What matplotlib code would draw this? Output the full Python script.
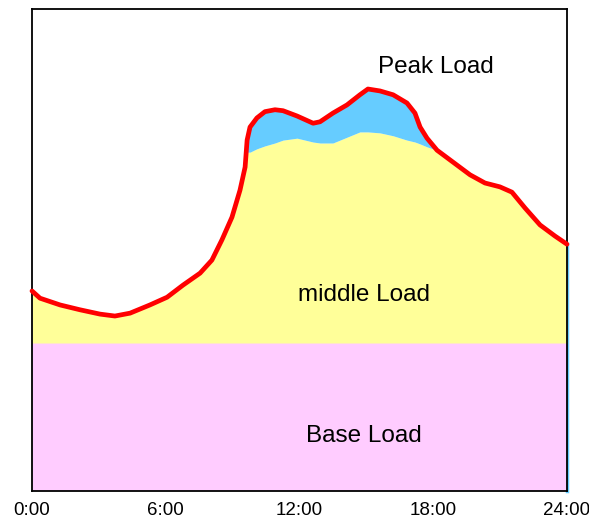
import matplotlib
matplotlib.use("Agg")
import matplotlib.pyplot as plt
import numpy as np

hours = [0.00, 0.36, 1.26, 2.15, 3.05, 3.72, 4.40, 5.29, 6.06, 6.77, 7.54, 8.07, 8.52,
         8.97, 9.33, 9.56, 9.65, 9.78, 10.09, 10.45, 10.90, 11.26, 11.89, 12.61, 12.92,
         13.50, 14.13, 14.71, 15.07, 15.61, 16.20, 16.82, 17.18, 17.41, 17.72, 18.17,
         18.75, 19.65, 20.32, 20.99, 21.53, 22.12, 22.79, 23.46, 24.00]
total_load = [41.5, 40.0, 38.6, 37.6, 36.7, 36.3, 36.9, 38.6, 40.2, 42.7, 45.2, 47.9, 52.1,
              56.8, 62.4, 67.2, 72.8, 75.5, 77.4, 78.7, 79.1, 78.9, 77.8, 76.3, 76.6,
              78.4, 80.1, 82.2, 83.4, 83.0, 82.2, 80.5, 78.4, 75.5, 73.2, 70.7,
              68.7, 65.6, 63.9, 63.1, 62.0, 58.7, 55.2, 52.9, 51.2]
middle_load = [41.5, 40.0, 38.6, 37.6, 36.7, 36.3, 36.9, 38.6, 40.2, 42.7, 45.2, 47.9, 52.1,
               56.8, 62.4, 67.2, 70.3, 70.3, 71.0, 71.6, 72.2, 72.8, 73.2, 72.4, 72.2,
               72.2, 73.4, 74.5, 74.5, 74.3, 73.7, 72.8, 72.4, 72.0, 71.4, 70.7,
               68.7, 65.6, 63.9, 63.1, 62.0, 58.7, 55.2, 52.9, 51.2]
base_load = 30.7
xtick_pos = [0, 6, 12, 18, 24]
xtick_labels = ["0:00", "6:00", "12:00", "18:00", "24:00"]
labels = ["Peak Load", "middle Load", "Base Load"]

plt.rcParams['font.family'] = ['Liberation Sans', 'DejaVu Sans']

fig = plt.figure(figsize=(5.89, 5.19), dpi=100)
ax = fig.add_axes([32/589, 1-491/519, 535/589, 482/519])

h = np.array(hours)
tot = np.array(total_load)
mid = np.array(middle_load)

ax.fill_between(h, 0, base_load, color="#FFCCFF", lw=0, zorder=1)
ax.fill_between(h, base_load, mid, color="#FFFF99", lw=0, zorder=1)
ax.fill_between(h, mid, tot, color="#66CCFF", lw=0, zorder=1)
ax.plot([24, 24], [0, total_load[-1]], color="#66CCFF", lw=2.5, zorder=0.5, clip_on=False)
ax.plot(h, tot, color="#FF0000", lw=3.4, zorder=3, clip_on=False,
        solid_capstyle="round", solid_joinstyle="round")

ax.text(18.1, 88.0, labels[0], fontsize=17.5, ha="center", va="center")
ax.text(14.9, 40.7, labels[1], fontsize=17.5, ha="center", va="center")
ax.text(14.9, 11.4, labels[2], fontsize=17.5, ha="center", va="center")

ax.set_xlim(0, 24)
ax.set_ylim(0, 100)
ax.set_xticks(xtick_pos)
ax.set_xticklabels(xtick_labels, fontsize=13.5)
ax.tick_params(axis="x", length=0, pad=8)
ax.set_yticks([])
for s in ax.spines.values():
    s.set_linewidth(1.3)
    s.set_zorder(2)

fig.savefig("out.png", dpi=100)
